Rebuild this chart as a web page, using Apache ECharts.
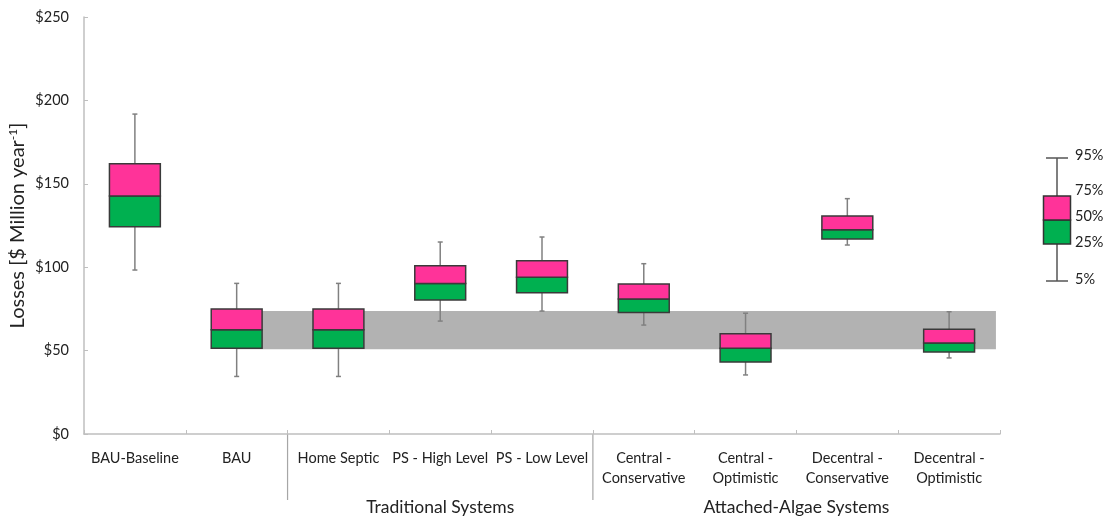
<!DOCTYPE html>
<html>
<head>
<meta charset="utf-8">
<script src="https://cdn.jsdelivr.net/npm/echarts@6/dist/echarts.min.js"></script>
<style>
  html, body { margin: 0; padding: 0; background: #fff; }
  #chart { width: 1112px; height: 522px; }
</style>
</head>
<body>
<div id="chart"></div>
<script>
// Scenario categories (x axis)
const categories = [
  'BAU-Baseline', 'BAU', 'Home Septic', 'PS - High Level', 'PS - Low Level',
  'Central -\nConservative', 'Central -\nOptimistic',
  'Decentral -\nConservative', 'Decentral -\nOptimistic'
];
// Loss percentiles, $ million per year
const p5  = [98.3, 34.5, 34.5, 67.7, 73.7, 65.3, 35.4, 113.3, 45.6];
const p25 = [124.3, 51.4, 51.4, 80.3, 84.7, 72.9, 43.2, 116.9, 49.2];
const p50 = [142.7, 62.5, 62.5, 90.3, 93.9, 80.9, 51.4, 122.5, 54.6];
const p75 = [162.0, 75.0, 75.0, 100.9, 103.9, 89.9, 60.1, 130.7, 62.8];
const p95 = [191.8, 90.3, 90.3, 115.1, 118.1, 102.1, 72.4, 141.1, 73.3];

// Reference range band, spanning BAU through the last scenario
const bandLow = 50.8;
const bandHigh = 73.7;
const bandFrom = 1;
const bandTo = 8;

// Scenario groups shown below the category labels
const groups = [
  { name: 'Traditional Systems', from: 2, to: 4 },
  { name: 'Attached-Algae Systems', from: 5, to: 8 }
];

// Y axis ticks
const yMin = 0, yMax = 250, yStep = 50;

// Legend key labels
const keyLabels = ['95%', '75%', '50%', '25%', '5%'];

const PINK = '#FF3399';
const GREEN = '#00B050';
const FONT = 'Lato, "Open Sans", sans-serif';

const boxData = categories.map((c, i) => [i, p5[i], p25[i], p50[i], p75[i], p95[i]]);
const bandData = [[bandFrom, bandLow, bandHigh, bandTo]];

const chart = echarts.init(document.getElementById('chart'), null, { renderer: 'canvas' });

const option = {
  animation: false,
  backgroundColor: '#fff',
  grid: { left: 84, right: 112, top: 17, bottom: 88, containLabel: false, outerBoundsMode: 'none' },
  xAxis: {
    type: 'category',
    data: categories,
    boundaryGap: true,
    axisLine: { lineStyle: { color: '#BFBFBF', width: 1.5 } },
    axisTick: { show: true, inside: true, length: 4, lineStyle: { color: '#BFBFBF' } },
    axisLabel: {
      color: '#222', fontFamily: FONT, fontSize: 14.5, margin: 14,
      lineHeight: 20, interval: 0
    }
  },
  yAxis: {
    type: 'value',
    min: yMin, max: yMax, interval: yStep,
    splitLine: { show: false },
    axisLine: { show: true, lineStyle: { color: '#BFBFBF', width: 1.5 } },
    axisTick: { show: true, inside: true, length: 4, lineStyle: { color: '#BFBFBF' } },
    axisLabel: {
      color: '#222', fontFamily: FONT, fontSize: 14.5, margin: 15,
      formatter: v => '$' + v
    },
    name: 'Losses [$ Million year{sup|-1}]',
    nameLocation: 'middle',
    nameRotate: 90,
    nameGap: 55,
    nameMoveOverlap: false,
    nameTextStyle: {
      color: '#222', fontFamily: FONT, fontSize: 20,
      rich: {
        sup: { fontFamily: FONT, fontSize: 12, color: '#222', padding: [0, 0, 10, 0] }
      }
    }
  },
  series: [
    {
      // grey reference band behind the boxes
      type: 'custom',
      z: 1,
      data: bandData,
      encode: { x: [0, 3], y: [1, 2] },
      renderItem: function (params, api) {
        const half = api.size([1, 0])[0] / 2;
        const x1 = api.coord([api.value(0), 0])[0];
        const x2 = api.coord([api.value(3), 0])[0] + half * 0.92;
        const yLo = api.coord([0, api.value(1)])[1];
        const yHi = api.coord([0, api.value(2)])[1];
        return {
          type: 'rect',
          shape: { x: x1, y: yHi, width: x2 - x1, height: yLo - yHi },
          style: { fill: '#B2B2B2' }
        };
      }
    },
    {
      // two-tone box plots: 5-95% whiskers, 25-50% green, 50-75% pink
      type: 'custom',
      z: 5,
      data: boxData,
      encode: { x: 0, y: [1, 2, 3, 4, 5] },
      renderItem: function (params, api) {
        const idx = api.value(0);
        const cx = api.coord([idx, 0])[0];
        const bw = api.size([1, 0])[0] * 0.5;
        const y = k => api.coord([idx, api.value(k)])[1];
        const y5 = y(1), y25 = y(2), y50 = y(3), y75 = y(4), y95 = y(5);
        const left = cx - bw / 2;
        const capW = 5;
        const whisk = { stroke: '#808080', lineWidth: 1.5 };
        const edge = { stroke: '#3A3A3A', lineWidth: 1.5 };
        return {
          type: 'group',
          children: [
            { type: 'line', shape: { x1: cx, y1: y95, x2: cx, y2: y75 }, style: whisk },
            { type: 'line', shape: { x1: cx, y1: y25, x2: cx, y2: y5 }, style: whisk },
            { type: 'line', shape: { x1: cx - capW / 2, y1: y95, x2: cx + capW / 2, y2: y95 }, style: whisk },
            { type: 'line', shape: { x1: cx - capW / 2, y1: y5, x2: cx + capW / 2, y2: y5 }, style: whisk },
            { type: 'rect', shape: { x: left, y: y50, width: bw, height: y25 - y50 }, style: Object.assign({ fill: GREEN }, edge) },
            { type: 'rect', shape: { x: left, y: y75, width: bw, height: y50 - y75 }, style: Object.assign({ fill: PINK }, edge) }
          ]
        };
      }
    }
  ]
};

chart.setOption(option);

// Group separators and group names under the category labels, plus the percentile key
const graphics = [];
const axisY = chart.convertToPixel({ yAxisIndex: 0 }, yMin);
const half = (chart.convertToPixel({ xAxisIndex: 0 }, 1) - chart.convertToPixel({ xAxisIndex: 0 }, 0)) / 2;
groups.forEach(g => {
  const xl = chart.convertToPixel({ xAxisIndex: 0 }, g.from) - half;
  const xr = chart.convertToPixel({ xAxisIndex: 0 }, g.to) + half;
  graphics.push({
    type: 'line', silent: true,
    shape: { x1: xl, y1: axisY, x2: xl, y2: axisY + 66 },
    style: { stroke: '#A6A6A6', lineWidth: 1.2 }
  });
  graphics.push({
    type: 'text', silent: true,
    x: (xl + xr) / 2, y: axisY + 73,
    style: { text: g.name, fill: '#222', font: '17.5px ' + FONT, align: 'center', verticalAlign: 'middle' }
  });
});

// percentile key on the right
const kx = 1057, kTop = 158, kQ3 = 196, kMed = 220, kQ1 = 244, kBot = 281, kW = 27;
const keyYs = [kTop - 3, kQ3 - 6, kMed - 4, kQ1 - 2, kBot - 2];
graphics.push(
  { type: 'line', shape: { x1: kx, y1: kTop, x2: kx, y2: kQ3 }, style: { stroke: '#555', lineWidth: 1.5 } },
  { type: 'line', shape: { x1: kx, y1: kQ1, x2: kx, y2: kBot }, style: { stroke: '#555', lineWidth: 1.5 } },
  { type: 'line', shape: { x1: kx - 11, y1: kTop, x2: kx + 11, y2: kTop }, style: { stroke: '#555', lineWidth: 1.5 } },
  { type: 'line', shape: { x1: kx - 11, y1: kBot, x2: kx + 11, y2: kBot }, style: { stroke: '#555', lineWidth: 1.5 } },
  { type: 'rect', shape: { x: kx - kW / 2, y: kMed, width: kW, height: kQ1 - kMed }, style: { fill: GREEN, stroke: '#333', lineWidth: 1.5 } },
  { type: 'rect', shape: { x: kx - kW / 2, y: kQ3, width: kW, height: kMed - kQ3 }, style: { fill: PINK, stroke: '#333', lineWidth: 1.5 } }
);
keyLabels.forEach((t, i) => {
  graphics.push({
    type: 'text', x: 1075, y: keyYs[i],
    style: { text: t, fill: '#222', font: '14.5px ' + FONT, align: 'left', verticalAlign: 'middle' }
  });
});

chart.setOption({ graphic: graphics });
</script>
</body>
</html>
